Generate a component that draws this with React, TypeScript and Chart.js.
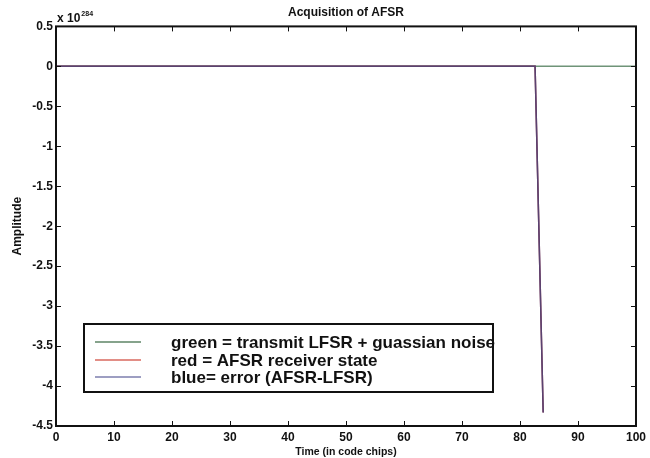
import React, { useEffect, useRef } from "react";
import { Chart, registerables } from "chart.js";

Chart.register(...registerables);

// ---- Data (amplitudes in units of 10^284) ----
const EXPONENT = "284";
const TITLE = "Acquisition of AFSR";
const X_LABEL = "Time (in code chips)";
const Y_LABEL = "Amplitude";

const greenTime = [0, 100];
const greenAmp = [0, 0];

const redTime = [0, 82.6, 84];
const redAmp = [0, 0, -4.33];

const blueTime = [0, 82.6, 84];
const blueAmp = [0, 0, -4.33];

const legendLabels = [
  "green = transmit LFSR + guassian noise",
  "red = AFSR receiver state",
  "blue= error (AFSR-LFSR)",
];

const xTicks = { min: 0, max: 100, step: 10 };
const yTicks = { min: -4.5, max: 0.5, step: 0.5 };

const FONT = "'Liberation Sans', Arial, Helvetica, sans-serif";

const toPts = (xs: number[], ys: number[]) => xs.map((x, i) => ({ x, y: ys[i] }));

const framePlugin = {
  id: "matlabFrame",
  afterDatasetsDraw(chart: any) {
    const { ctx, chartArea: a, scales } = chart;
    const xs = scales.x;
    const ys = scales.y;
    ctx.save();
    ctx.strokeStyle = "#111";
    ctx.lineWidth = 1;
    const tl = 5;
    ctx.beginPath();
    xs.ticks.forEach((t: any) => {
      const px = Math.round(xs.getPixelForValue(t.value)) + 0.5;
      ctx.moveTo(px, a.bottom);
      ctx.lineTo(px, a.bottom - tl);
      ctx.moveTo(px, a.top);
      ctx.lineTo(px, a.top + tl);
    });
    ys.ticks.forEach((t: any) => {
      const py = Math.round(ys.getPixelForValue(t.value)) + 0.5;
      ctx.moveTo(a.left, py);
      ctx.lineTo(a.left + tl, py);
      ctx.moveTo(a.right, py);
      ctx.lineTo(a.right - tl, py);
    });
    ctx.stroke();
    ctx.lineWidth = 2;
    ctx.strokeRect(a.left, a.top, a.right - a.left, a.bottom - a.top);

    // exponent label
    ctx.fillStyle = "#111";
    ctx.textBaseline = "alphabetic";
    ctx.textAlign = "left";
    ctx.font = `bold 12px ${FONT}`;
    const base = "x 10";
    ctx.fillText(base, a.left + 1, a.top - 4);
    const w = ctx.measureText(base).width;
    ctx.font = `bold 7px ${FONT}`;
    ctx.fillText(EXPONENT, a.left + 1 + w + 1, a.top - 10);

    // legend box
    const bx = 84, by = 324, bw = 409, bh = 68;
    ctx.fillStyle = "#fff";
    ctx.fillRect(bx, by, bw, bh);
    ctx.lineWidth = 2;
    ctx.strokeStyle = "#111";
    ctx.strokeRect(bx, by, bw, bh);
    const rowY = [342, 360, 377];
    const legendColors = ["#5e8466", "#d8685e", "#7c7eae"];
    legendLabels.forEach((lab, i) => {
      ctx.strokeStyle = legendColors[i];
      ctx.lineWidth = 1.5;
      ctx.beginPath();
      ctx.moveTo(95, rowY[i]);
      ctx.lineTo(141, rowY[i]);
      ctx.stroke();
      ctx.fillStyle = "#111";
      ctx.font = `bold 17px ${FONT}`;
      ctx.textBaseline = "middle";
      ctx.fillText(lab, 171, rowY[i] + 1);
    });
    ctx.restore();
  },
};

export default function App() {
  const ref = useRef<HTMLCanvasElement | null>(null);
  useEffect(() => {
    if (!ref.current) return;
    const chart = new Chart(ref.current, {
      type: "line",
      data: {
        datasets: [
          {
            label: legendLabels[0],
            data: toPts(greenTime, greenAmp),
            borderColor: "#6f9478",
            borderWidth: 1.5,
            pointRadius: 0,
            order: 2,
          },
          {
            label: legendLabels[1],
            data: toPts(redTime, redAmp),
            borderColor: "#8a3a55",
            borderWidth: 1.5,
            pointRadius: 0,
            order: 1,
          },
          {
            label: legendLabels[2],
            data: toPts(blueTime, blueAmp),
            borderColor: "#5a4270",
            borderWidth: 1.5,
            pointRadius: 0,
            order: 0,
          },
        ],
      },
      options: {
        animation: false,
        responsive: false,
        parsing: true,
        layout: { padding: { left: 0, right: 14, top: 0, bottom: 0 } },
        plugins: {
          legend: { display: false },
          tooltip: { enabled: false },
          title: {
            display: true,
            text: TITLE,
            fullSize: false,
            color: "#111",
            font: { family: FONT, size: 12, weight: "bold" },
            padding: { top: 5, bottom: 7 },
          },
        },
        scales: {
          x: {
            type: "linear",
            min: xTicks.min,
            max: xTicks.max,
            ticks: {
              stepSize: xTicks.step,
              color: "#111",
              padding: 4,
              maxRotation: 0,
              font: { family: FONT, size: 12, weight: "bold" },
            },
            grid: { display: false, drawTicks: false },
            border: { display: false },
            title: {
              display: true,
              text: X_LABEL,
              color: "#111",
              font: { family: FONT, size: 10.5, weight: "bold" },
              padding: { top: 0, bottom: 0 },
            },
            afterFit: (s: any) => {
              s.height = 32;
            },
          },
          y: {
            type: "linear",
            min: yTicks.min,
            max: yTicks.max,
            ticks: {
              stepSize: yTicks.step,
              color: "#111",
              padding: 3,
              font: { family: FONT, size: 12, weight: "bold" },
              callback: (v: any) => String(Math.round(Number(v) * 10) / 10),
            },
            grid: { display: false, drawTicks: false },
            border: { display: false },
            title: {
              display: true,
              text: Y_LABEL,
              color: "#111",
              font: { family: FONT, size: 12, weight: "bold" },
              padding: { top: 10, bottom: 0 },
            },
            afterFit: (s: any) => {
              s.width = 56;
            },
          },
        },
      },
      plugins: [framePlugin],
    } as any);
    return () => chart.destroy();
  }, []);
  return (
    <div style={{ position: "fixed", left: 0, top: 0, width: 650, height: 458, background: "#fff" }}>
      <canvas ref={ref} width={650} height={458} />
    </div>
  );
}
